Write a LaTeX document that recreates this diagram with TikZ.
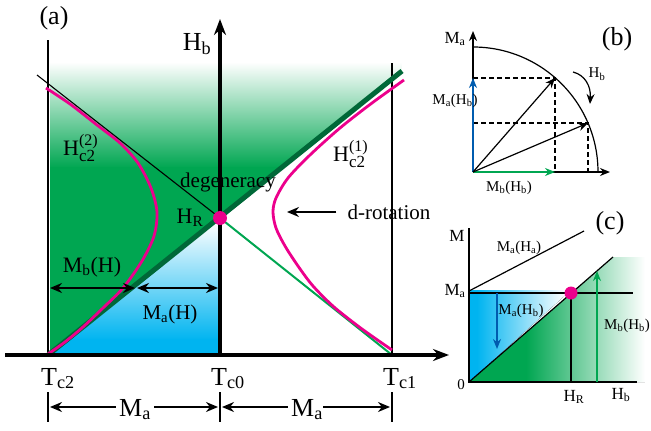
\documentclass[tikz,border=0pt]{standalone}
\usepackage{fontspec}
\setmainfont{Liberation Serif}
\usetikzlibrary{arrows.meta}

\definecolor{regiongreen}{RGB}{0,166,81}
\definecolor{linegreen}{RGB}{0,104,56}
\definecolor{regionblue}{RGB}{0,180,240}
\definecolor{hotpink}{RGB}{236,0,140}
\definecolor{arrowblue}{RGB}{0,92,175}

\newcommand{\fsz}[1]{\fontsize{#1}{#1}\selectfont}
\newcommand{\hctwo}[1]{H\rlap{\raisebox{10pt}{\fsz{16}(#1)}}\raisebox{-6pt}{\fsz{17}c2}}

\begin{document}
\begin{tikzpicture}[
        x=1pt, y=-1pt,
        axisline/.style={line width=4pt},
        wall/.style={line width=2pt},
        thinline/.style={line width=1.1pt},
        hcurve/.style={draw=hotpink, line width=2.8pt},
        dot/.style={circle, fill=hotpink, minimum size=14pt, inner sep=0pt},
        bigtip/.style={-{Stealth[length=16pt,width=12pt]}},
        dimtip/.style={-{Stealth[length=12pt,width=10pt]}},
        smalltip/.style={-{Stealth[length=10pt,width=8pt]}},
        bigtxt/.style={font=\fsz{26}, inner sep=0pt},
        hctxt/.style={font=\fsz{22}, inner sep=0pt},
        midtxt/.style={font=\fsz{21}, inner sep=0pt},
        smalltxt/.style={font=\fsz{15}, inner sep=0pt},
        axtxt/.style={font=\fsz{17}, inner sep=0pt}
    ]
    \useasboundingbox (0,0) rectangle (651,431);

    % panel (a)
    \coordinate (Tc2) at (48,355);
    \coordinate (Tc0) at (220,355);
    \coordinate (Tc1) at (392,355);
    \coordinate (HR) at (220,218);
    \coordinate (xstart) at (5,355);
    \coordinate (xend) at (449,355);
    \coordinate (ytop) at (220,19);
    \coordinate (wallL) at (48,40);
    \coordinate (wallR) at (392,63);
    \coordinate (greenend) at (402,71);
    \coordinate (degenend) at (37,75);

    \begin{scope}
        \clip (50,55) -- (402,55) -- (greenend) -- (50,353) -- cycle;
        \fill[top color=white, bottom color=regiongreen] (50,62) rectangle (402,168);
        \fill[regiongreen] (50,167) rectangle (402,356);
    \end{scope}
    \begin{scope}
        \clip (50,355) -- (HR) -- (Tc0) -- cycle;
        \fill[top color=white, bottom color=regionblue] (50,222) rectangle (220,340);
        \fill[regionblue] (50,339) rectangle (220,356);
    \end{scope}

    \draw[thinline] (degenend) -- (HR);
    \draw[regiongreen, line width=2pt] (HR) -- (Tc1);
    \draw[wall] (wallL) -- (Tc2);
    \draw[wall] (wallR) -- (Tc1);
    \draw[linegreen, line width=5pt] (Tc2) -- (greenend);

    \draw[hcurve] plot[smooth] coordinates {(46,88) (70,104) (97,125) (120,143)
        (138,163) (151,188) (157,212) (154,236) (142,261) (123,288) (103,308)
        (83,327) (65,342) (48,354)};
    \draw[hcurve] plot[smooth] coordinates {(404,80) (372,103) (340,128) (310,155)
        (288,178) (276,198) (273,212) (276,228) (285,246) (298,266) (313,286)
        (334,307) (362,329) (392,350)};

    \draw[axisline, bigtip] (xstart) -- (xend);
    \draw[axisline, bigtip] (Tc0) -- (ytop);
    \node[dot] (hrdot) at (HR) {};

    \coordinate (mbleft) at (50,288);
    \coordinate (mbright) at (135,288);
    \coordinate (maleft) at (137,288);
    \coordinate (maright) at (218,288);
    \draw[line width=1.8pt, {Stealth[length=12pt,width=10pt]}-{Stealth[length=12pt,width=10pt]}] (mbleft) -- (mbright);
    \draw[line width=1.8pt, {Stealth[length=12pt,width=10pt]}-{Stealth[length=12pt,width=10pt]}] (maleft) -- (maright);

    \node[bigtxt] (panelA) at (54,18) {(a)};
    \node[bigtxt] (hbA) at (197,44) {H\textsubscript{b}};
    \node[hctxt, anchor=base west] (hctwoA) at (63,155) {\hctwo{2}};
    \node[hctxt, anchor=base west] (honeA) at (333,161) {\hctwo{1}};
    \node[midtxt] (degen) at (228,182) {degeneracy};
    \node[hctxt] (hrA) at (190,218) {H\textsubscript{R}};
    \node[midtxt] (drot) at (389,212) {d-rotation};
    \coordinate (drottip) at (287,212);
    \draw[line width=1.8pt, dimtip] ([xshift=-11pt]drot.west) -- (drottip);
    \node[hctxt] (mbH) at (92,267) {M\textsubscript{b}(H)};
    \node[midtxt] (maH) at (170,314) {M\textsubscript{a}(H)};

    \node[bigtxt, anchor=base] (tctwo) at (58,385) {T\textsubscript{c2}};
    \node[bigtxt, anchor=base] (tczero) at (228,385) {T\textsubscript{c0}};
    \node[bigtxt, anchor=base] (tcone) at (400,385) {T\textsubscript{c1}};

    % lengths below the axis
    \coordinate (dimL) at (48,407);
    \coordinate (dimM) at (220,407);
    \coordinate (dimR) at (392,407);
    \foreach \c in {dimL,dimM,dimR}
        \draw[wall] (\c) ++(0,-15) -- ++(0,30);
    \node[bigtxt, anchor=base] (maleftlbl) at (135,416) {M\textsubscript{a}};
    \node[bigtxt, anchor=base] (marightlbl) at (307,416) {M\textsubscript{a}};
    \draw[line width=1.5pt, dimtip] ([xshift=-3pt]maleftlbl.west |- dimL) -- ([xshift=2pt]dimL);
    \draw[line width=1.5pt, dimtip] ([xshift=3pt]maleftlbl.east |- dimM) -- ([xshift=-2pt]dimM);
    \draw[line width=1.5pt, dimtip] ([xshift=-3pt]marightlbl.west |- dimM) -- ([xshift=2pt]dimM);
    \draw[line width=1.5pt, dimtip] (marightlbl.east |- dimR) -- ([xshift=-2pt]dimR);

    % panel (b)
    \coordinate (Ob) at (473,172);
    \coordinate (mtop) at (473,31);
    \coordinate (mright) at (610,172);
    \coordinate (arctop) at (473,47);
    \coordinate (P1) at (555,78);
    \coordinate (P2) at (588,123);
    \coordinate (P1y) at (473,78);
    \coordinate (P1x) at (555,172);
    \coordinate (P2y) at (473,123);
    \coordinate (P2x) at (588,172);

    \draw[line width=1.2pt, dashed, dash pattern=on 5pt off 3pt] (P1y) -- (P1) -- (P1x);
    \draw[line width=1.2pt, dashed, dash pattern=on 5pt off 3pt] (P2y) -- (P2) -- (P2x);
    \draw[line width=1.2pt] (arctop) arc[start angle=90, end angle=0, radius=125pt];
    \draw[line width=2.5pt, smalltip] (Ob) -- (mtop);
    \draw[line width=2.5pt, smalltip] (Ob) -- (mright);
    \draw[arrowblue, line width=2.2pt, smalltip] (Ob) -- (P1y);
    \draw[regiongreen, line width=2.2pt, smalltip] (Ob) -- (P1x);
    \draw[line width=1.2pt, smalltip] (Ob) -- (P1);
    \draw[line width=1.2pt, smalltip] (Ob) -- (P2);
    \coordinate (rotstart) at (573,72);
    \coordinate (rotend) at (590,104);
    \draw[line width=1.2pt, smalltip] (rotstart) .. controls (585,75) and (591,86) .. (rotend);

    \node[bigtxt] (panelB) at (617,39) {(b)};
    \node[axtxt] (maB) at (455,39) {M\textsubscript{a}};
    \node[smalltxt] (hbB) at (597,74) {H\textsubscript{b}};
    \node[smalltxt] (mahbB) at (455,101) {M\textsubscript{a}(H\textsubscript{b})};
    \node[smalltxt] (mbhbB) at (509,188) {M\textsubscript{b}(H\textsubscript{b})};

    % panel (c)
    \coordinate (Oc) at (469,382);
    \coordinate (mc) at (469,228);
    \coordinate (hend) at (637,382);
    \coordinate (maleftc) at (469,293);
    \coordinate (marightc) at (633,293);
    \coordinate (mahastart) at (469,291);
    \coordinate (mahaend) at (584,231);
    \coordinate (diagend) at (613,257);
    \coordinate (HRc) at (571,293);
    \coordinate (HRfoot) at (571,382);
    \coordinate (gfoot) at (597,382);
    \coordinate (gtip) at (597,271);
    \coordinate (bstart) at (497,293);
    \coordinate (btip) at (497,349);

    \begin{scope}
        \clip (469,290) -- (571,290) -- (Oc) -- cycle;
        \fill[regionblue] (469,288) rectangle (478,383);
        \fill[left color=regionblue, right color=white] (477,288) rectangle (565,383);
    \end{scope}
    \begin{scope}
        \clip (Oc) -- (diagend) -- (645,257) -- (645,382) -- cycle;
        \fill[regiongreen] (469,250) rectangle (527,383);
        \fill[left color=regiongreen, right color=white] (526,250) rectangle (645,383);
    \end{scope}

    \draw[line width=1.2pt] (mahastart) -- (mahaend);
    \draw[line width=1.2pt] (Oc) -- (diagend);
    \draw[line width=2.5pt] (maleftc) -- (marightc);
    \draw[line width=2pt] (HRc) -- (HRfoot);
    \draw[line width=2.5pt] (mc) -- (Oc) -- (hend);
    \draw[regiongreen, line width=2.2pt, smalltip] (gfoot) -- (gtip);
    \draw[arrowblue, line width=2.2pt, smalltip] (bstart) -- (btip);
    \node[dot, minimum size=13pt] (hrdotc) at (HRc) {};

    \node[bigtxt] (panelC) at (610,223) {(c)};
    \node[axtxt] (mC) at (457,236) {M};
    \node[axtxt] (maC) at (455,291) {M\textsubscript{a}};
    \node[smalltxt] (zeroC) at (461,385) {0};
    \node[smalltxt] (mahaC) at (519,248) {M\textsubscript{a}(H\textsubscript{a})};
    \node[smalltxt] (mahbC) at (521,311) {M\textsubscript{a}(H\textsubscript{b})};
    \node[smalltxt] (mbhbC) at (627,326) {M\textsubscript{b}(H\textsubscript{b})};
    \node[axtxt] (hrC) at (574,397) {H\textsubscript{R}};
    \node[axtxt] (hbC) at (621,395) {H\textsubscript{b}};
\end{tikzpicture}
\end{document}
